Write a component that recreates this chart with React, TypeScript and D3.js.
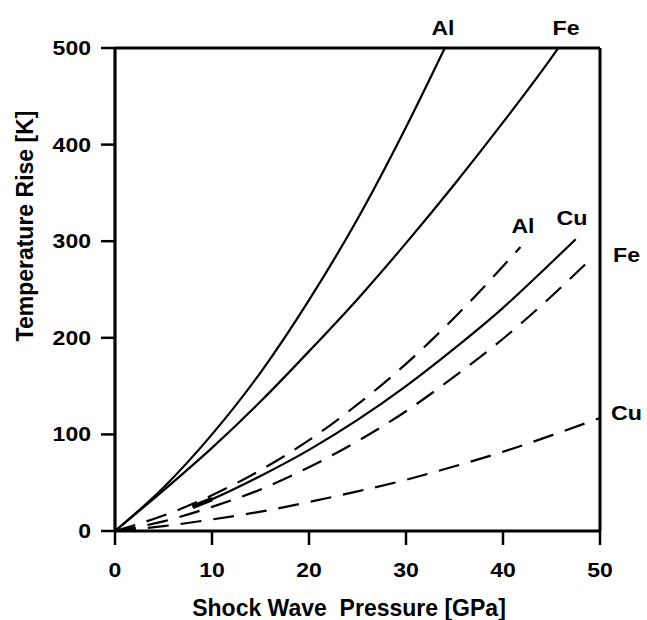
import React from "react";
import * as d3 from "d3";

// Solid curves
const alSolidP = [0, 5, 10, 15, 20, 25, 30, 34];
const alSolidT = [0, 45, 100, 164, 239, 323, 418, 500];
const feSolidP = [0, 5, 10, 15, 20, 25, 30, 35, 40, 45, 45.7];
const feSolidT = [0, 42, 86, 134, 186, 240, 298, 359, 423, 490, 500];
const cuSolidP = [8, 10, 15, 20, 25, 30, 35, 40, 45, 47.5];
const cuSolidT = [25, 33, 57, 84, 115, 150, 189, 231, 278, 302];
// Dashed curves
const alDashP = [0, 5, 10, 15, 20, 25, 30, 35, 40, 41.8];
const alDashT = [0, 16, 37, 63, 94, 131, 173, 221, 274, 294];
const feDashP = [0, 5, 10, 15, 20, 25, 30, 35, 40, 45, 49.3];
const feDashT = [0, 10, 25, 43, 66, 93, 124, 160, 199, 243, 284];
const cuDashP = [0, 5, 10, 15, 20, 25, 30, 35, 40, 45, 50];
const cuDashT = [0, 5, 12, 20, 30, 41, 53, 67, 82, 99, 117];

const xTicks = [0, 10, 20, 30, 40, 50];
const yTicks = [0, 100, 200, 300, 400, 500];

const xTitle = "Shock Wave\u00a0\u00a0Pressure [GPa]";
const yTitle = "Temperature Rise [K]";

const curves = [
  { p: alSolidP, t: alSolidT, dashed: false, label: "Al", lx: 443, ly: 35, anchor: "middle", w: 23 },
  { p: feSolidP, t: feSolidT, dashed: false, label: "Fe", lx: 566, ly: 35, anchor: "middle", w: 27 },
  { p: cuSolidP, t: cuSolidT, dashed: false, label: "Cu", lx: 572, ly: 225, anchor: "middle", w: 31 },
  { p: alDashP, t: alDashT, dashed: true, label: "Al", lx: 523, ly: 233, anchor: "middle", w: 23 },
  { p: feDashP, t: feDashT, dashed: true, label: "Fe", lx: 613, ly: 262, anchor: "start", w: 27 },
  { p: cuDashP, t: cuDashT, dashed: true, label: "Cu", lx: 611, ly: 420, anchor: "start", w: 31 },
];

export default function App() {
  const x = d3.scaleLinear().domain([0, 50]).range([115, 600]);
  const y = d3.scaleLinear().domain([0, 500]).range([531, 48]);
  const line = d3
    .line<[number, number]>()
    .x((d) => x(d[0]))
    .y((d) => y(d[1]))
    .curve(d3.curveMonotoneX);
  const font = "'Liberation Sans', Arial, Helvetica, sans-serif";

  return (
    <div style={{ position: "absolute", left: 0, top: 0 }}>
      <svg width={647} height={620} style={{ display: "block", background: "#fff" }}>
        <rect x={0} y={0} width={647} height={620} fill="#fff" />
        {curves.map((c, i) => (
          <path
            key={"c" + i}
            d={line(c.p.map((pv, j) => [pv, c.t[j]] as [number, number])) || ""}
            fill="none"
            stroke="#000"
            strokeWidth={2.2}
            strokeDasharray={c.dashed ? "21 12" : undefined}
          />
        ))}
        {/* thicker start of the Cu solid curve */}
        <path
          d={line([[cuSolidP[0], cuSolidT[0]], [cuSolidP[1], cuSolidT[1]]]) || ""}
          fill="none"
          stroke="#000"
          strokeWidth={4.5}
        />
        {/* frame */}
        <line x1={x(0)} x2={x(50)} y1={y(0)} y2={y(0)} stroke="#000" strokeWidth={3.2} />
        <line x1={x(0)} x2={x(50)} y1={y(500)} y2={y(500)} stroke="#000" strokeWidth={3.2} />
        <line x1={x(0)} x2={x(0)} y1={y(500)} y2={y(0)} stroke="#000" strokeWidth={3.2} />
        <line x1={x(50)} x2={x(50)} y1={y(500)} y2={y(0)} stroke="#000" strokeWidth={3} />
        {/* ticks */}
        {yTicks.map((v) => (
          <g key={"y" + v}>
            <line x1={x(0) - 14} x2={x(0)} y1={y(v)} y2={y(v)} stroke="#000" strokeWidth={2.5} />
            <text
              x={91}
              y={y(v) + 7}
              textAnchor="end"
              fontFamily={font}
              fontWeight="bold"
              fontSize={20}
              textLength={String(v).length * 12.8}
              lengthAdjust="spacingAndGlyphs"
            >
              {v}
            </text>
          </g>
        ))}
        {xTicks.map((v) => (
          <g key={"x" + v}>
            <line x1={x(v)} x2={x(v)} y1={y(0)} y2={y(0) + 14} stroke="#000" strokeWidth={2.5} />
            <text
              x={x(v)}
              y={577}
              textAnchor="middle"
              fontFamily={font}
              fontWeight="bold"
              fontSize={20}
              textLength={String(v).length * 12.8}
              lengthAdjust="spacingAndGlyphs"
            >
              {v}
            </text>
          </g>
        ))}
        {/* curve labels */}
        {curves.map((c, i) => (
          <text
            key={"l" + i}
            x={c.lx}
            y={c.ly}
            textAnchor={c.anchor as any}
            fontFamily={font}
            fontWeight="bold"
            fontSize={21}
            textLength={c.w}
            lengthAdjust="spacingAndGlyphs"
          >
            {c.label}
          </text>
        ))}
        {/* titles */}
        <text
          x={349}
          y={616}
          textAnchor="middle"
          fontFamily={font}
          fontWeight="bold"
          fontSize={23}
        >
          {xTitle}
        </text>
        <text
          transform="translate(33,226) rotate(-90)"
          textAnchor="middle"
          fontFamily={font}
          fontWeight="bold"
          fontSize={23}
        >
          {yTitle}
        </text>
      </svg>
    </div>
  );
}
